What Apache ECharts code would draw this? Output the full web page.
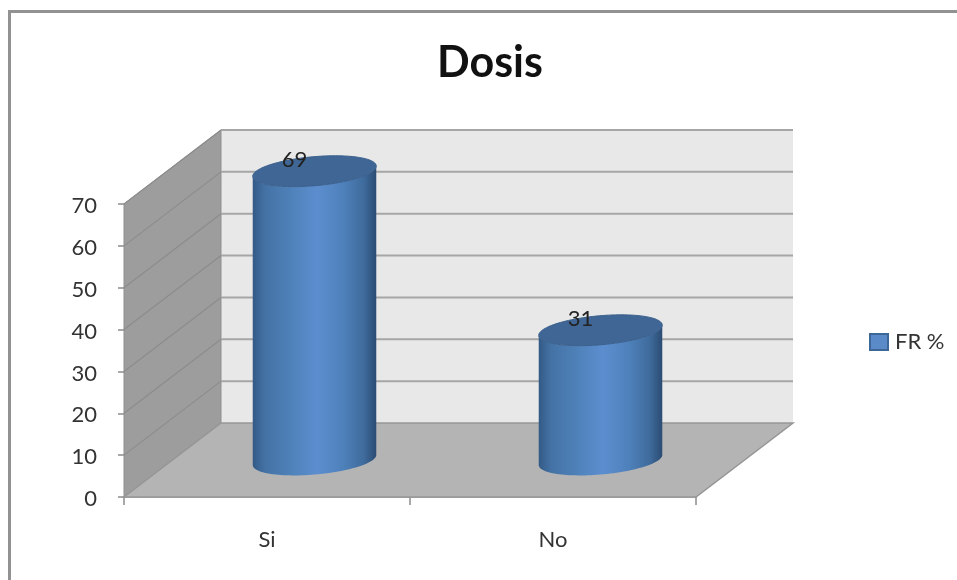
<!DOCTYPE html>
<html>
<head>
<meta charset="utf-8">
<style>html,body{margin:0;padding:0;background:#fff}#c{width:957px;height:580px}</style>
<script src="https://cdn.jsdelivr.net/npm/echarts@6/dist/echarts.min.js"></script>
</head>
<body>
<div id="c"></div>
<script>
const titleText = 'Dosis';
const seriesName = 'FR %';
const categories = ['Si', 'No'];
const values = [69, 31];
const yTicks = [0, 10, 20, 30, 40, 50, 60, 70];

const FONT = 'Lato, sans-serif';
const DEPTH_X = 97, DEPTH_Y = -74;
const RX = 62, RY = 14.5, TILT = 5 * Math.PI / 180;

function ellipsePoint(cx, cy, t) {
  const a = RX * Math.cos(t), b = RY * Math.sin(t);
  return [cx + a * Math.cos(TILT) + b * Math.sin(TILT),
          cy - a * Math.sin(TILT) + b * Math.cos(TILT)];
}
function ellipse(cx, cy) {
  const pts = [];
  for (let i = 0; i < 120; i++) pts.push(ellipsePoint(cx, cy, i / 120 * 2 * Math.PI));
  return pts;
}
function renderWalls(params, api) {
  const o = api.coord([0, 0]);
  const size = api.size([1, 0]);
  const x0 = o[0] - size[0] / 2;
  const x1 = x0 + size[0] * categories.length;
  const y0 = o[1];
  const yTop = api.coord([0, yTicks[yTicks.length - 1]])[1];
  const dx = DEPTH_X, dy = DEPTH_Y;
  const children = [
    { type: 'polygon', shape: { points: [[x0 + dx, yTop + dy], [x1 + dx, yTop + dy], [x1 + dx, y0 + dy], [x0 + dx, y0 + dy]] },
      style: { fill: '#e8e8e8' } },
    { type: 'polygon', shape: { points: [[x0, yTop], [x0 + dx, yTop + dy], [x0 + dx, y0 + dy], [x0, y0]] },
      style: { fill: '#9d9d9d', stroke: '#8f8f8f', lineWidth: 1 } },
    { type: 'polygon', shape: { points: [[x0, y0], [x1, y0], [x1 + dx, y0 + dy], [x0 + dx, y0 + dy]] },
      style: { fill: '#b4b4b4', stroke: '#969696', lineWidth: 1.5 } }
  ];
  yTicks.forEach(function (v) {
    const y = api.coord([0, v])[1];
    if (v > 0) {
      children.push({ type: 'line', shape: { x1: x0 + dx, y1: y + dy, x2: x1 + dx, y2: y + dy },
        style: { stroke: '#a6a6a6', lineWidth: 2 } });
      children.push({ type: 'line', shape: { x1: x0, y1: y, x2: x0 + dx, y2: y + dy },
        style: { stroke: '#8c8c8c', lineWidth: 1.2 } });
    }
  });
  return { type: 'group', children: children };
}
function renderCylinder(params, api) {
  const front = api.coord([api.value(0), 0]);
  const top = api.coord([api.value(0), api.value(1)]);
  const cx = front[0] + DEPTH_X / 2 - 1;
  const by = front[1] + DEPTH_Y / 2;
  const ty = top[1] + DEPTH_Y / 2;
  const side = [];
  const tExt = Math.atan2(RY * Math.sin(TILT), RX * Math.cos(TILT));
  const n = 60;
  for (let i = 0; i <= n; i++) side.push(ellipsePoint(cx, by, tExt + i / n * Math.PI));
  for (let i = n; i >= 0; i--) side.push(ellipsePoint(cx, ty, tExt + i / n * Math.PI));
  return {
    type: 'group',
    children: [
      { type: 'polygon', shape: { points: side },
        style: { fill: { type: 'linear', x: 0, y: 0, x2: 1, y2: 0, colorStops: [
          { offset: 0, color: '#335a86' },
          { offset: 0.1, color: '#4472a5' },
          { offset: 0.28, color: '#4d7fb6' },
          { offset: 0.52, color: '#5c8ecf' },
          { offset: 0.72, color: '#4f82bc' },
          { offset: 0.9, color: '#3f6b9c' },
          { offset: 1, color: '#2b4c73' }
        ] } } },
      { type: 'polygon', shape: { points: ellipse(cx, ty) }, style: { fill: '#3f6695', stroke: '#3a5f8c', lineWidth: 1 } },
      { type: 'text', style: { text: String(api.value(1)), x: cx - 20, y: ty - 11, align: 'center', verticalAlign: 'middle',
          fill: '#222', font: '22px ' + FONT } }
    ]
  };
}
const chart = echarts.init(document.getElementById('c'), null, { renderer: 'canvas' });
chart.setOption({
  animation: false,
  backgroundColor: '#fff',
  title: { text: titleText, left: 485, top: 37, textAlign: 'center',
    textStyle: { fontFamily: FONT, fontSize: 43, fontWeight: 'bold', color: '#111' } },
  legend: { data: [seriesName], left: 869, top: 331, itemWidth: 18, itemHeight: 16, itemGap: 0,
    icon: 'rect', textStyle: { fontFamily: FONT, fontSize: 22, color: '#333', padding: [0, 0, 0, 2] },
    padding: 0 },
  grid: { left: 124, top: 204, width: 572, height: 293 },
  xAxis: { type: 'category', data: categories,
    axisLine: { lineStyle: { color: '#8c8c8c', width: 1.5 } },
    axisTick: { show: true, length: 8, lineStyle: { color: '#8c8c8c', width: 1.5 } },
    axisLabel: { fontFamily: FONT, fontSize: 22, color: '#333', margin: 32 } },
  yAxis: { type: 'value', min: 0, max: 70, interval: 10,
    axisLine: { show: false },
    axisTick: { show: true, length: 6, lineStyle: { color: '#8c8c8c', width: 1.5 } },
    splitLine: { show: false },
    axisLabel: { margin: 27, formatter: '{a|{value}}',
      rich: { a: { fontFamily: FONT, fontSize: 22, color: '#333', padding: [4, 0, 0, 0] } } } },
  graphic: [{ type: 'rect', silent: true, shape: { x: 9.5, y: 11.5, width: 1000, height: 620 },
    style: { fill: 'none', stroke: '#929292', lineWidth: 3 } }],
  series: [
    { type: 'custom', name: 'walls', z: 1, silent: true, renderItem: renderWalls, data: [[0, 0]] },
    { type: 'custom', name: seriesName, z: 3, silent: true, renderItem: renderCylinder,
      itemStyle: { color: '#5a8bc8', borderColor: '#3d6797', borderWidth: 1.5 },
      encode: { x: 0, y: 1 },
      data: categories.map(function (c, i) { return [i, values[i]]; }) }
  ]
});
</script>
</body>
</html>
